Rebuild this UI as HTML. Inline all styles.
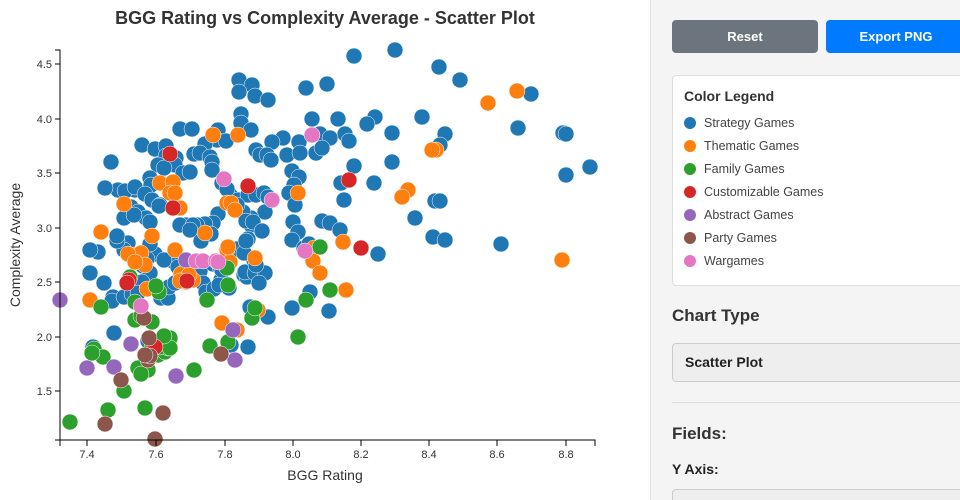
<!DOCTYPE html>
<html><head><meta charset="utf-8"><style>
body{margin:0;width:960px;height:500px;overflow:hidden;background:#fff;font-family:"Liberation Sans",sans-serif;position:relative}
#panel{position:absolute;left:650px;top:0;width:310px;height:500px;overflow:hidden;background:#f4f4f4;border-left:1px solid #e0e0e0}
.btn{position:absolute;top:20px;height:33px;border-radius:4px;color:#fff;font-weight:bold;font-size:13px;text-align:center;line-height:33px}
#leg{position:absolute;left:21px;top:75px;width:300px;height:209px;background:#fff;border:1px solid #ddd;border-radius:4px}
#leg h4{margin:0;position:absolute;left:11px;top:12px;font-size:14px;color:#333}
.li{position:absolute;left:11px;font-size:12.5px;color:#444;white-space:nowrap}
.li span{display:inline-block;width:12px;height:12px;border-radius:50%;vertical-align:-2px;margin-right:8px}
</style></head><body>
<svg width="650" height="500" style="position:absolute;left:0;top:0">
<text x="325" y="24" text-anchor="middle" font-size="18" font-weight="bold" fill="#333">BGG Rating vs Complexity Average - Scatter Plot</text>
<g id="dots"></g>
<g stroke="#000" fill="none"><path d="M55 50H60V440H55"/><path d="M60 446V440H595V446"/></g>
<g font-size="11" fill="#333" text-anchor="end">
<text x="52" y="68">4.5</text><text x="52" y="123">4.0</text><text x="52" y="177">3.5</text><text x="52" y="232">3.0</text><text x="52" y="286">2.5</text><text x="52" y="341">2.0</text><text x="52" y="395">1.5</text></g>
<g stroke="#000"><path d="M55 64h5M55 119h5M55 173h5M55 228h5M55 282h5M55 337h5M55 391h5M87 440v6M156 440v6M225 440v6M293 440v6M361 440v6M429 440v6M497 440v6M566 440v6"/></g>
<g font-size="11" fill="#333" text-anchor="middle">
<text x="87" y="458">7.4</text><text x="156" y="458">7.6</text><text x="225" y="458">7.8</text><text x="293" y="458">8.0</text><text x="361" y="458">8.2</text><text x="429" y="458">8.4</text><text x="497" y="458">8.6</text><text x="566" y="458">8.8</text></g>
<text x="325" y="480" text-anchor="middle" font-size="14" fill="#333">BGG Rating</text>
<text transform="translate(20,245) rotate(-90)" text-anchor="middle" font-size="14" fill="#333">Complexity Average</text>
</svg>
<div id="panel">
<div class="btn" style="left:21px;width:146px;background:#6c757d">Reset</div>
<div class="btn" style="left:175px;width:140px;background:#007bff">Export PNG</div>
<div id="leg"><h4>Color Legend</h4>
<div class="li" style="top:40px"><span style="background:#1f77b4"></span>Strategy Games</div>
<div class="li" style="top:63px"><span style="background:#ff7f0e"></span>Thematic Games</div>
<div class="li" style="top:86px"><span style="background:#2ca02c"></span>Family Games</div>
<div class="li" style="top:109px"><span style="background:#d62728"></span>Customizable Games</div>
<div class="li" style="top:132px"><span style="background:#9467bd"></span>Abstract Games</div>
<div class="li" style="top:155px"><span style="background:#8c564b"></span>Party Games</div>
<div class="li" style="top:178px"><span style="background:#e377c2"></span>Wargames</div>
</div>
<div style="position:absolute;left:21px;top:306px;font-size:17px;font-weight:bold;color:#333">Chart Type</div>
<div style="position:absolute;left:21px;top:343px;width:300px;height:37px;background:#eee;border:1px solid #ccc;border-radius:4px;font-size:14px;font-weight:bold;line-height:37px;text-indent:12px;color:#222">Scatter Plot</div>
<div style="position:absolute;left:21px;top:402px;width:300px;border-top:1px solid #ddd"></div>
<div style="position:absolute;left:21px;top:424px;font-size:17px;font-weight:bold;color:#333">Fields:</div>
<div style="position:absolute;left:21px;top:461px;font-size:14px;font-weight:bold;color:#222">Y Axis:</div>
<div style="position:absolute;left:21px;top:489px;width:300px;height:30px;background:#eee;border:1px solid #ccc;border-radius:4px"></div>
</div>
<script>
var S={
"#1f77b4":[[395,50],[354,56],[439,67],[460,80],[239,80],[252,85],[239,92],[306,88],[327,84],[255,96],[268,100],[531,94],[338,119],[312,119],[375,117],[422,117],[367,124],[345,134],[349,141],[445,134],[440,145],[518,128],[563,133],[241,114],[241,123],[251,130],[392,133],[320,134],[330,138],[283,138],[272,142],[299,142],[180,129],[192,129],[218,130],[217,140],[226,141],[205,144],[142,145],[155,149],[166,146],[194,154],[166,156],[200,153],[256,150],[260,155],[267,155],[271,160],[287,155],[300,153],[210,157],[212,162],[316,153],[322,148],[111,162],[158,165],[176,158],[175,165],[164,168],[212,170],[292,171],[392,162],[354,166],[183,173],[190,172],[299,177],[294,185],[150,178],[151,185],[118,190],[135,190],[125,191],[135,187],[105,188],[145,194],[152,200],[160,205],[230,195],[238,200],[248,195],[256,195],[264,193],[268,197],[222,183],[227,189],[289,193],[341,183],[374,183],[344,200],[295,205],[265,212],[251,218],[251,225],[218,214],[243,212],[237,205],[159,206],[131,207],[138,212],[146,218],[150,222],[124,218],[134,215],[246,221],[253,222],[213,223],[205,224],[197,225],[186,225],[180,225],[193,225],[211,234],[322,221],[330,223],[340,230],[293,222],[298,232],[262,231],[248,239],[201,241],[190,230],[292,240],[304,248],[309,244],[415,218],[435,201],[440,201],[433,237],[445,240],[501,244],[378,254],[186,260],[180,260],[174,262],[155,254],[147,259],[143,266],[150,273],[128,243],[124,250],[117,241],[117,236],[98,252],[90,250],[90,273],[104,283],[142,282],[113,297],[112,301],[124,297],[132,294],[138,293],[161,298],[168,298],[169,287],[175,283],[200,271],[203,283],[206,292],[214,289],[221,280],[219,285],[229,288],[244,275],[247,277],[245,272],[255,273],[265,273],[259,283],[213,264],[220,267],[222,270],[150,244],[164,260],[178,267],[185,271],[229,257],[237,249],[254,260],[256,265],[244,253],[246,241],[310,292],[292,308],[329,311],[250,307],[268,317],[248,347],[231,345],[93,347],[114,333],[148,341],[590,167],[566,175],[566,134]],
"#ff7f0e":[[517,91],[488,103],[238,135],[213,135],[436,150],[160,183],[173,182],[170,193],[227,203],[180,208],[231,203],[175,193],[235,210],[205,233],[298,193],[408,190],[402,197],[432,150],[124,204],[152,236],[134,255],[141,253],[175,250],[181,274],[186,282],[193,280],[189,275],[227,250],[230,262],[255,258],[314,248],[313,261],[320,273],[343,242],[346,290],[101,232],[145,265],[147,289],[90,300],[222,323],[237,330],[258,310],[562,260],[128,254],[135,262],[180,281],[228,247]],
"#2ca02c":[[70,422],[108,410],[124,391],[145,408],[152,347],[158,355],[148,370],[138,368],[141,374],[165,352],[168,348],[160,347],[170,338],[170,348],[164,336],[94,349],[103,357],[92,353],[101,307],[130,277],[135,302],[135,320],[141,316],[152,322],[159,292],[156,286],[194,370],[210,346],[207,300],[228,285],[227,268],[252,318],[255,308],[228,342],[298,337],[306,300],[320,247],[330,290]],
"#d62728":[[170,154],[248,186],[349,180],[173,208],[129,280],[187,281],[155,347],[361,248],[127,283]],
"#9467bd":[[60,300],[87,368],[131,344],[114,367],[176,376],[186,260],[235,360],[233,330]],
"#8c564b":[[105,424],[121,380],[144,318],[148,360],[150,356],[149,338],[163,413],[155,439],[221,354],[145,355]],
"#e377c2":[[224,179],[272,200],[312,135],[141,306],[196,261],[203,261],[216,261],[218,262],[305,251]]};
var g=document.getElementById('dots'),h='';
for(var c in S)S[c].forEach(function(p){h+='<circle cx="'+p[0]+'" cy="'+p[1]+'" r="8" fill="'+c+'" stroke="#fff" stroke-width="0.5"/>';});
g.innerHTML=h;
</script>
</body></html>
